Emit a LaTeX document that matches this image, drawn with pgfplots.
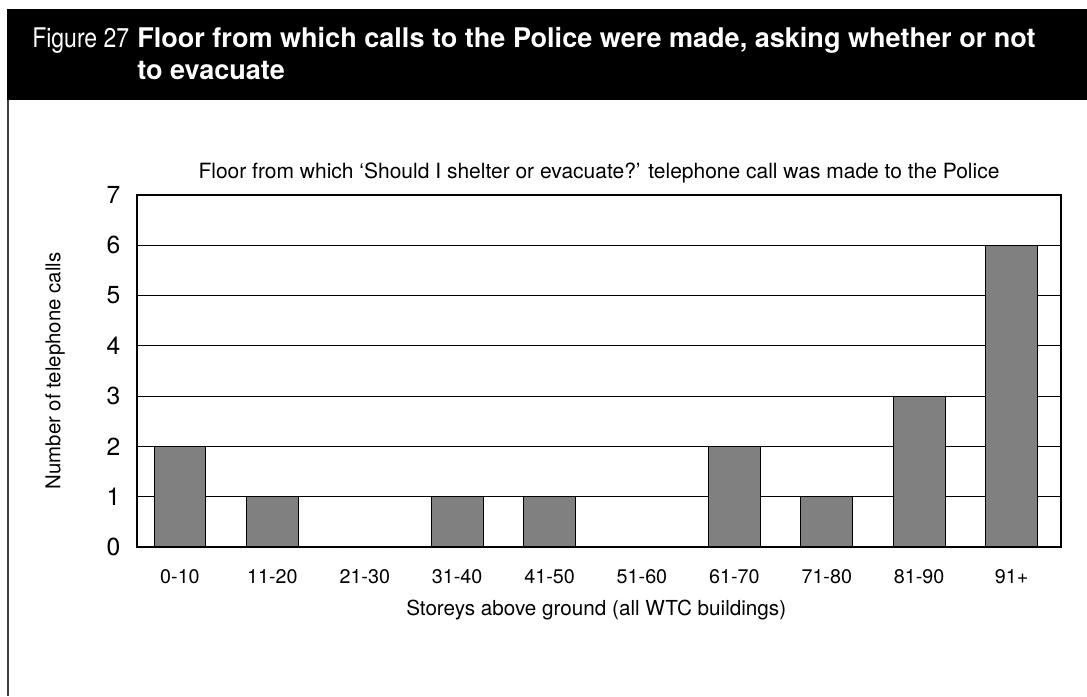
\documentclass[border=0pt]{standalone}
\usepackage{fontspec}
\setmainfont{TeX Gyre Heros}
\usepackage{pgfplots}
\pgfplotsset{compat=1.18}
\definecolor{bargray}{RGB}{128,128,128}
\begin{document}
\begin{tikzpicture}
\begin{scope}[x=0.75pt,y=-0.75pt]
\path[use as bounding box] (0,0) rectangle (1087,696);
\fill[black] (7,9) rectangle (1087,100);
\draw[line width=1pt, black!75] (8,100) -- (8,696);
\node[anchor=base west, text=white, font=\fontsize{20.3}{24}\selectfont, inner sep=0] at (32,47) {\scalebox{0.85}[1]{Figure 27}};
\node[anchor=base west, text=white, font=\fontsize{20.3}{24}\selectfont\bfseries, inner sep=0] at (137,47) {Floor from which calls to the Police were made, asking whether or not};
\node[anchor=base west, text=white, font=\fontsize{20.3}{24}\selectfont\bfseries, inner sep=0] at (137,79) {to evacuate};
\end{scope}
\begin{axis}[
  at={(102.75pt,-410.25pt)}, anchor=south west,
  width=693pt, height=264pt, scale only axis,
  ybar, bar width=0.56, bar shift=0,
  xmin=-0.465, xmax=9.535, ymin=0, ymax=7,
  xtick={0,...,9},
  xticklabels={0-10,11-20,21-30,31-40,41-50,51-60,61-70,71-80,81-90,91+},
  ytick={0,...,7},
  major tick length=0,
  ymajorgrids, grid style={black, line width=0.8pt},
  axis line style={black, line width=0.8pt},
  /pgf/number format/assume math mode=true,
  yticklabel style={font=\fontsize{18.5}{20}\selectfont, xshift=-9pt},
  xticklabel style={font=\fontsize{14.8}{16}\selectfont, yshift=-13pt},
  title={Floor from which ‘Should I shelter or evacuate?’ telephone call was made to the Police},
  title style={font=\fontsize{15.75}{18}\selectfont, at={(axis description cs:0.5,1.023)}, anchor=base, inner sep=0},
  xlabel={Storeys above ground (all WTC buildings)},
  xlabel style={font=\fontsize{15.5}{18}\selectfont, at={(axis description cs:0.497,-0.179)}, anchor=center, inner sep=0},
  ylabel={Number of telephone calls},
  ylabel style={font=\fontsize{15.3}{18}\selectfont, at={(axis description cs:-0.0887,0.5)}, anchor=center, inner sep=0},
]
\addplot[fill=bargray, draw=black, line width=0.8pt] coordinates {
(0,2) (1,1) (2,0) (3,1) (4,1) (5,0) (6,2) (7,1) (8,3) (9,6)};
\end{axis}
\end{tikzpicture}
\end{document}
